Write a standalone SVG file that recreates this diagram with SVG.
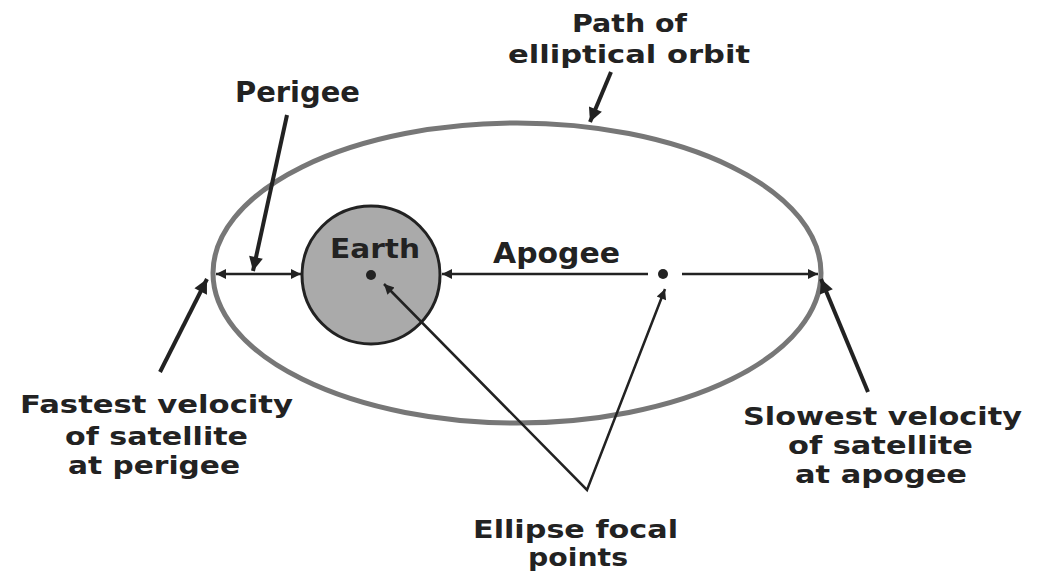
<svg xmlns="http://www.w3.org/2000/svg" width="1048" height="575" viewBox="0 0 1048 575">
<style>
text{font-family:"DejaVu Sans","Liberation Sans",sans-serif;font-weight:bold;fill:#222;font-size:28px}
.ml{font-size:25px}
.thick{stroke:#222;stroke-width:4;fill:none}
.thin{stroke:#222;stroke-width:2.5;fill:none}
</style>
<defs>
<marker id="big" viewBox="0 0 10 10" refX="10" refY="5" markerUnits="userSpaceOnUse" markerWidth="24" markerHeight="14" orient="auto"><path d="M0,0 L10,5 L0,10 Z" fill="#222"/></marker>
<marker id="small" viewBox="0 0 10 10" refX="10" refY="5" markerUnits="userSpaceOnUse" markerWidth="14" markerHeight="10" orient="auto"><path d="M0,0 L10,5 L0,10 Z" fill="#222"/></marker>
<marker id="smallS" viewBox="0 0 10 10" refX="0" refY="5" markerUnits="userSpaceOnUse" markerWidth="14" markerHeight="10" orient="auto"><path d="M10,0 L0,5 L10,10 Z" fill="#222"/></marker>
</defs>
<rect width="1048" height="575" fill="#fff"/>
<g id="orbit"><ellipse cx="517" cy="273" rx="304" ry="150" fill="none" stroke="#777" stroke-width="5"/></g>
<g id="earth">
<circle cx="371" cy="275" r="69" fill="#aaa" stroke="#222" stroke-width="3"/>
<text x="330" y="258" textLength="90" lengthAdjust="spacingAndGlyphs" style="font-size:26px">Earth</text>
<circle cx="371" cy="275" r="5" fill="#222"/>
</g>
<g id="focus"><circle cx="663" cy="274" r="5" fill="#222"/></g>
<g id="connectors">
<line class="thin" x1="216" y1="274" x2="301" y2="274" marker-start="url(#smallS)" marker-end="url(#small)"/>
<line class="thin" x1="442" y1="274" x2="648" y2="274" marker-start="url(#smallS)"/>
<line class="thin" x1="682" y1="274" x2="818" y2="274" marker-end="url(#small)"/>
<line class="thick" x1="287" y1="115" x2="253" y2="271" marker-end="url(#big)"/>
<line class="thick" x1="611" y1="72" x2="590" y2="122" marker-end="url(#big)"/>
<line class="thick" x1="160" y1="372" x2="207" y2="279" marker-end="url(#big)"/>
<line class="thick" x1="868" y1="392" x2="821" y2="279" marker-end="url(#big)"/>
<polyline class="thin" points="384,284 587,490 665,289" marker-start="url(#smallS)" marker-end="url(#small)"/>
</g>
<g id="labels">
<text x="235" y="102" textLength="125" lengthAdjust="spacingAndGlyphs">Perigee</text>
<text x="493" y="263" textLength="127" lengthAdjust="spacingAndGlyphs">Apogee</text>
<text class="ml" x="572" y="32" textLength="115" lengthAdjust="spacingAndGlyphs">Path of</text>
<text class="ml" x="508" y="63" textLength="242" lengthAdjust="spacingAndGlyphs">elliptical orbit</text>
<text class="ml" x="473" y="538" textLength="205" lengthAdjust="spacingAndGlyphs">Ellipse focal</text>
<text class="ml" x="528" y="566" textLength="100" lengthAdjust="spacingAndGlyphs">points</text>
<text class="ml" x="20" y="413" textLength="273" lengthAdjust="spacingAndGlyphs">Fastest velocity</text>
<text class="ml" x="65" y="445" textLength="183" lengthAdjust="spacingAndGlyphs">of satellite</text>
<text class="ml" x="68" y="474" textLength="172" lengthAdjust="spacingAndGlyphs">at perigee</text>
<text class="ml" x="743" y="425" textLength="279" lengthAdjust="spacingAndGlyphs">Slowest velocity</text>
<text class="ml" x="788" y="454" textLength="185" lengthAdjust="spacingAndGlyphs">of satellite</text>
<text class="ml" x="795" y="483" textLength="172" lengthAdjust="spacingAndGlyphs">at apogee</text>
</g>
</svg>
